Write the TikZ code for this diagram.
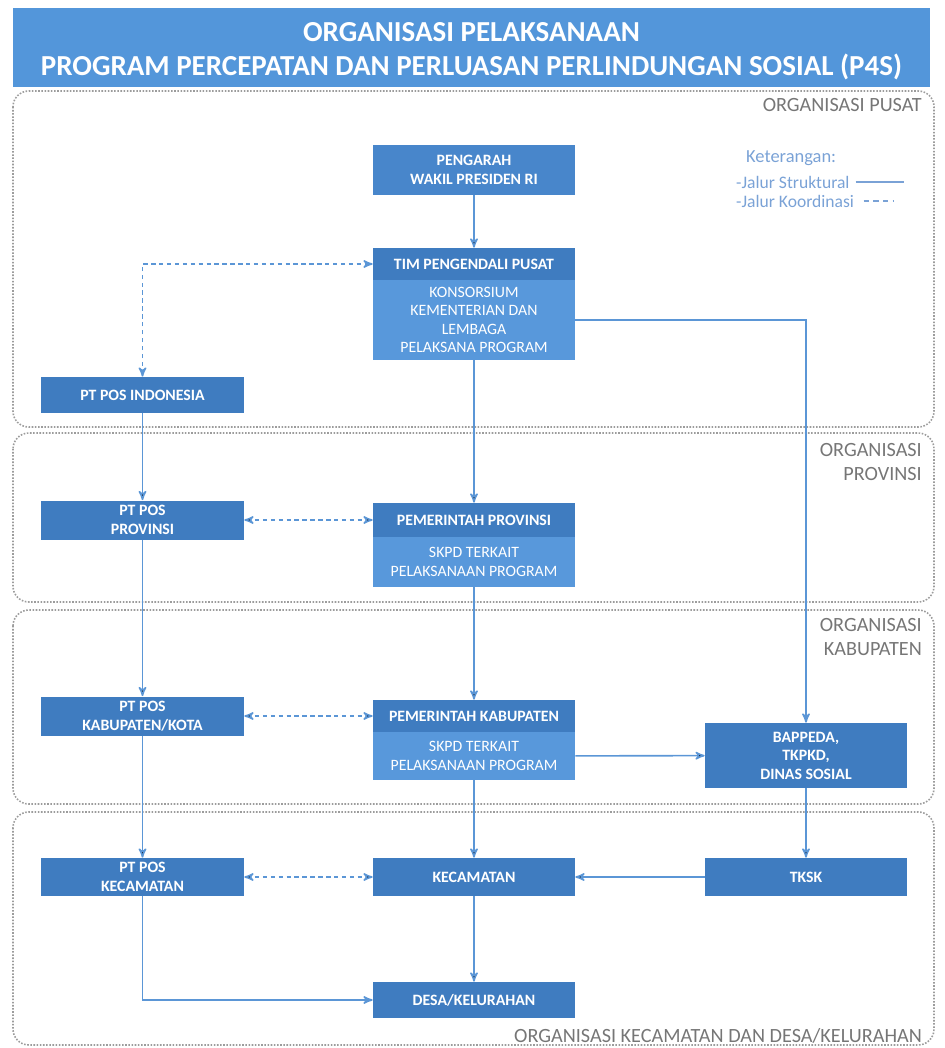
\documentclass[tikz,border=0pt]{standalone}
\usepackage{fontspec}
\setmainfont{Carlito}
\usetikzlibrary{arrows}
\usetikzlibrary{positioning}
\definecolor{titleblue}{HTML}{5396DA}
\definecolor{headblue}{HTML}{3F7CC0}
\definecolor{unitblue}{HTML}{4886CB}
\definecolor{bodyblue}{HTML}{5898DB}
\definecolor{linkblue}{HTML}{5B96D6}
\definecolor{framegray}{HTML}{9C9C9C}
\definecolor{levelgray}{HTML}{767676}
\definecolor{legendblue}{HTML}{7AA2D6}

\begin{document}
\begin{tikzpicture}[x=0.02cm,y=-0.02cm,>=stealth',
    link/.style={->,line width=0.9pt,draw=linkblue},
    coord link/.style={<->,line width=0.9pt,draw=linkblue,dash pattern=on 2.5pt off 2pt},
    unit node/.style={rectangle,fill=headblue,text=white,align=center,inner sep=1pt,
        minimum width=4.04cm,font=\fontsize{9}{10.5}\selectfont\bfseries},
    body node/.style={unit node,fill=bodyblue,font=\fontsize{9}{10.5}\selectfont},
    level frame/.style={draw=framegray,line width=0.9pt,rounded corners=9pt,dash pattern=on 0.9pt off 0.9pt},
    level label/.style={text=levelgray,align=right,anchor=east,font=\fontsize{11.5}{14}\selectfont}]
  \useasboundingbox (0,0) rectangle (944,1048);

  % judul
  \fill[titleblue] (13,8) rectangle (930,87);
  \node[text=white,align=center,font=\fontsize{16.5}{19}\selectfont\bfseries] (judul) at (471.5,51)
    {ORGANISASI PELAKSANAAN\\PROGRAM PERCEPATAN DAN PERLUASAN PERLINDUNGAN SOSIAL (P4S)};

  % tingkat organisasi
  \draw[level frame] (13,91) rectangle (934,427);
  \draw[level frame] (13,433) rectangle (934,602);
  \draw[level frame] (13,610) rectangle (934,804);
  \draw[level frame] (13,812) rectangle (934,1045);
  \node[level label] (lpusat) at (928,105) {ORGANISASI PUSAT};
  \node[level label] (lprov) at (928,462) {ORGANISASI\\PROVINSI};
  \node[level label] (lkab) at (928,637) {ORGANISASI\\KABUPATEN};
  \node[level label] (lkec) at (928,1036) {ORGANISASI KECAMATAN DAN DESA/KELURAHAN};

  % keterangan
  \node[text=legendblue,anchor=west,font=\fontsize{10.5}{12}\selectfont] (ket) at (740,158) {Keterangan:};
  \node[text=legendblue,anchor=west,font=\fontsize{10}{12}\selectfont] (struk) at (730,182) {-Jalur Struktural};
  \node[text=legendblue,anchor=west,font=\fontsize{10}{12}\selectfont] (koord) at (730,201) {-Jalur Koordinasi};
  \draw[line width=0.9pt,draw=legendblue] (struk.east) -- ++(48,0);
  \draw[line width=0.9pt,draw=legendblue,dash pattern=on 3pt off 2.5pt] ([xshift=2pt]koord.east) -- ++(30,0);

  % pusat
  \node[unit node,fill=unitblue,minimum height=1cm] (pengarah) at (474,170) {PENGARAH\\WAKIL PRESIDEN RI};
  \node[unit node,minimum height=0.64cm] (timpusat) at (474,264) {TIM PENGENDALI PUSAT};
  \node[body node,minimum height=1.6cm] (konsorsium) at (474,320) {KONSORSIUM\\KEMENTERIAN DAN\\LEMBAGA\\PELAKSANA PROGRAM};
  \node[unit node,minimum width=4.06cm,minimum height=0.72cm] (ptpos) at (142.5,395) {PT POS INDONESIA};

  % provinsi
  \node[unit node,minimum width=4.06cm,minimum height=0.78cm] (ptposprov) at (142.5,520) {PT POS\\PROVINSI};
  \node[unit node,minimum height=0.68cm] (pemprov) at (474,520) {PEMERINTAH PROVINSI};
  \node[body node,minimum height=1.0cm] (skpdprov) at (474,562) {SKPD TERKAIT\\PELAKSANAAN PROGRAM};

  % kabupaten
  \node[unit node,minimum width=4.06cm,minimum height=0.78cm] (ptposkab) at (142.5,716) {PT POS\\KABUPATEN/KOTA};
  \node[unit node,minimum height=0.64cm] (pemkab) at (474,716) {PEMERINTAH KABUPATEN};
  \node[body node,minimum height=0.96cm] (skpdkab) at (474,756) {SKPD TERKAIT\\PELAKSANAAN PROGRAM};
  \node[unit node,minimum height=1.3cm] (bappeda) at (806,755.5) {BAPPEDA,\\TKPKD,\\DINAS SOSIAL};

  % kecamatan dan desa
  \node[unit node,minimum width=4.06cm,minimum height=0.76cm] (ptposkec) at (142.5,877) {PT POS\\KECAMATAN};
  \node[unit node,minimum height=0.76cm] (kecamatan) at (474,877) {KECAMATAN};
  \node[unit node,minimum height=0.76cm] (tksk) at (806,877) {TKSK};
  \node[unit node,minimum height=0.72cm] (desa) at (474,1000) {DESA/KELURAHAN};

  % jalur struktural
  \path[link] (pengarah) edge (timpusat);
  \path[link] (konsorsium) edge (pemprov);
  \path[link] (skpdprov) edge (pemkab);
  \path[link] (skpdkab) edge (kecamatan);
  \path[link] (kecamatan) edge (desa);
  \path[link] (ptpos) edge (ptposprov);
  \path[link] (ptposprov) edge (ptposkab);
  \path[link] (ptposkab) edge (ptposkec);
  \path[link] (skpdkab) edge (bappeda);
  \path[link] (bappeda) edge (tksk);
  \path[link] (tksk) edge (kecamatan);
  \draw[link] (konsorsium.east) -| (bappeda.north);
  \draw[link] (ptposkec.south) |- (desa.west);

  % jalur koordinasi
  \draw[coord link] (ptpos.north) |- (timpusat.west);
  \path[coord link] (ptposprov) edge (pemprov);
  \path[coord link] (ptposkab) edge (pemkab);
  \path[coord link] (ptposkec) edge (kecamatan);
\end{tikzpicture}
\end{document}
